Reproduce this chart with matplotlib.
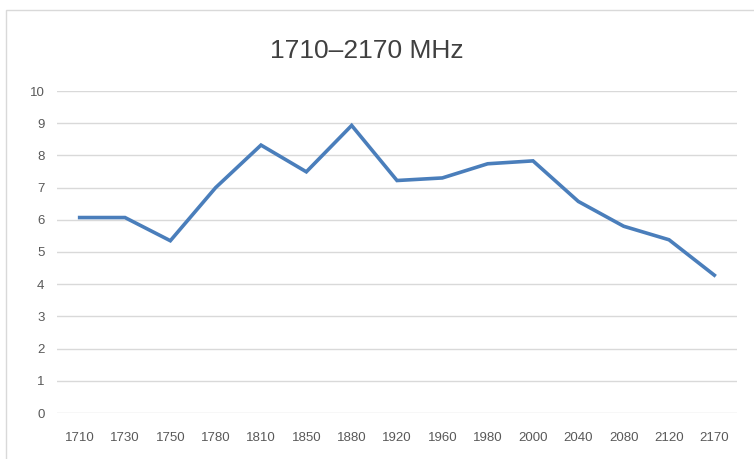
import matplotlib
matplotlib.use("Agg")
import matplotlib.pyplot as plt
from matplotlib.patches import Rectangle

freqs = ["1710", "1730", "1750", "1780", "1810", "1850", "1880", "1920",
         "1960", "1980", "2000", "2040", "2080", "2120", "2170"]
values = [6.07, 6.07, 5.35, 7.0, 8.32, 7.49, 8.93, 7.22,
          7.3, 7.74, 7.83, 6.57, 5.8, 5.38, 4.28]
yticks = list(range(0, 11))

plt.rcParams['font.family'] = ['Liberation Sans', 'DejaVu Sans']

fig = plt.figure(figsize=(7.54, 4.59), dpi=100)
# chart frame
fig.patches.append(Rectangle((6 / 754, -0.05), 1.0, 1.05 - 10 / 459,
                             transform=fig.transFigure, fill=False,
                             edgecolor='#d9d9d9', linewidth=1))

ax = fig.add_axes([57 / 754, 1 - 413 / 459, 680 / 754, 322 / 459])
x = range(len(freqs))
ax.plot(x, values, color='#4A7EBB', linewidth=2.6, solid_joinstyle='miter')

ax.set_xlim(-0.5, len(freqs) - 0.5)
ax.set_ylim(0, 10)
ax.set_yticks(yticks)
ax.set_xticks(list(x))
ax.set_xticklabels(freqs)
ax.grid(axis='y', color='#d9d9d9', linewidth=1)
ax.set_axisbelow(True)
for s in ax.spines.values():
    s.set_visible(False)
ax.tick_params(length=0, colors='#595959', labelsize=9.5)
ax.tick_params(axis='y', pad=9)
ax.tick_params(axis='x', pad=14)

fig.text(367 / 754, 1 - 51 / 459, "1710\u20132170 MHz", ha='center', va='center',
         fontsize=19, color='#404040')

fig.savefig("out.png", dpi=100)
